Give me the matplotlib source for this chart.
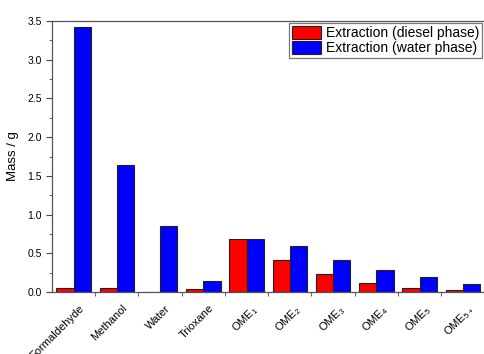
import numpy as np
import matplotlib
matplotlib.use("Agg")
import matplotlib.pyplot as plt
import matplotlib.transforms as mtransforms
from matplotlib.ticker import MultipleLocator, FixedLocator

plt.rcParams["font.family"] = ["Liberation Sans", "DejaVu Sans"]
plt.rcParams["mathtext.fontset"] = "custom"
plt.rcParams["mathtext.rm"] = "Liberation Sans"
plt.rcParams["mathtext.it"] = "Liberation Sans"

categories = ["Formaldehyde", "Methanol", "Water", "Trioxane",
              "OME$_1$", "OME$_2$", "OME$_3$", "OME$_4$", "OME$_5$", "OME$_{5+}$"]
diesel_phase = [0.05, 0.05, 0.0, 0.04, 0.685, 0.42, 0.23, 0.12, 0.055, 0.025]
water_phase = [3.42, 1.64, 0.85, 0.145, 0.685, 0.59, 0.42, 0.28, 0.195, 0.10]

fig = plt.figure(figsize=(4.84, 3.54), dpi=100)
ax = fig.add_axes([0.1074, 0.175, 0.8936, 0.7655])

x = np.arange(len(categories)) + 0.5
w = 0.4
ax.bar(x - w / 2, diesel_phase, w, color="#ff0000", edgecolor="#222222", linewidth=0.8,
       label="Extraction (diesel phase)")
ax.bar(x + w / 2, water_phase, w, color="#0000ff", edgecolor="#222222", linewidth=0.8,
       label="Extraction (water phase)")

ax.set_xlim(0, len(categories))
ax.set_ylim(0, 3.5)
ax.set_xticks(x)
ax.set_xticklabels([])
ax.xaxis.set_minor_locator(FixedLocator(np.arange(1, len(categories))))
ax.tick_params(axis="x", which="major", length=0)
ax.tick_params(axis="x", which="minor", length=3, direction="out", color="#444444")

# category labels drawn by hand so they sit like the original (rotated, right end near group)
shift = mtransforms.ScaledTranslation(5 / 100, -11 / 100, fig.dpi_scale_trans)
for xi, name in zip(x, categories):
    ax.text(xi, 0, name, transform=ax.get_xaxis_transform() + shift,
            rotation=45, ha="right", va="top", rotation_mode="anchor", fontsize=8)

ax.yaxis.set_major_locator(MultipleLocator(0.5))
ax.yaxis.set_minor_locator(MultipleLocator(0.25))
ax.yaxis.set_major_formatter(matplotlib.ticker.FormatStrFormatter("%.1f"))
ax.tick_params(axis="y", which="major", length=4, direction="out", labelsize=7.5, color="#444444")
ax.tick_params(axis="y", which="minor", length=2, direction="out", color="#444444")

ax.set_ylabel("Mass / g", fontsize=9.5, labelpad=6)

for s in ["left", "bottom", "top"]:
    ax.spines[s].set_color("#555555")
    ax.spines[s].set_linewidth(0.9)
ax.spines["right"].set_visible(False)

leg = ax.legend(loc="upper right", fontsize=10, frameon=True, fancybox=False,
                handlelength=2.1, handleheight=1.05, handletextpad=0.4,
                borderpad=0.2, labelspacing=0.05, borderaxespad=0.15)
leg.get_frame().set_edgecolor("#555555")
leg.get_frame().set_linewidth(0.9)

fig.savefig("out.png", dpi=100)
